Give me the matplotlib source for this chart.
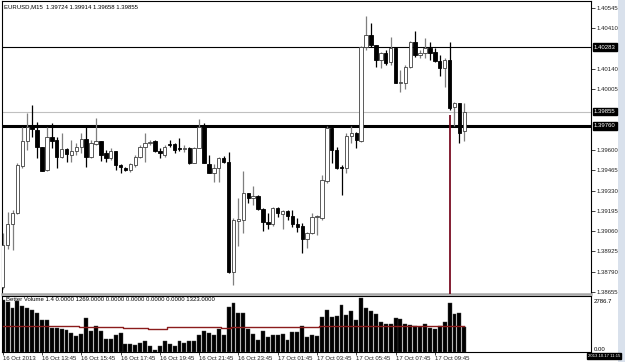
import matplotlib
matplotlib.use('Agg')
from matplotlib import pyplot as plt
from matplotlib import transforms

plt.rcParams['font.family'] = ['Liberation Sans', 'DejaVu Sans']
FS = 4.3

# EURUSD M15 candles
opens = [1.38688, 1.38968, 1.39107, 1.39180, 1.39493, 1.39659, 1.39752, 1.39732, 1.39619, 1.39466,
         1.39686, 1.39666, 1.39553, 1.39606, 1.39566, 1.39593, 1.39619, 1.39672, 1.39553, 1.39639,
         1.39659, 1.39579, 1.39546, 1.39593, 1.39500, 1.39480, 1.39466, 1.39500, 1.39553, 1.39619,
         1.39646, 1.39659, 1.39593, 1.39566, 1.39639, 1.39639, 1.39613, 1.39606, 1.39613, 1.39513,
         1.39613, 1.39752, 1.39506, 1.39446, 1.39480, 1.39546, 1.39520, 1.38788, 1.39127, 1.39134,
         1.39313, 1.39280, 1.39293, 1.39207, 1.39121, 1.39107, 1.39214, 1.39174, 1.39194, 1.39160,
         1.39107, 1.39094, 1.39007, 1.39047, 1.39154, 1.39147, 1.39393, 1.39746, 1.39599, 1.39486,
         1.39480, 1.39692, 1.39712, 1.39659, 1.40284, 1.40364, 1.40298, 1.40198, 1.40244, 1.40185,
         1.40278, 1.40045, 1.40045, 1.40151, 1.40318, 1.40231, 1.40244, 1.40278, 1.40251, 1.40191,
         1.40145, 1.40198, 1.39885, 1.39912, 1.39724]
highs = [1.39047, 1.39187, 1.39200, 1.39513, 1.39752, 1.39845, 1.39899, 1.39786, 1.39622, 1.39752,
         1.39779, 1.39686, 1.39712, 1.39613, 1.39666, 1.39646, 1.39712, 1.39752, 1.39666, 1.39812,
         1.39659, 1.39599, 1.39613, 1.39593, 1.39506, 1.39486, 1.39513, 1.39566, 1.39633, 1.39712,
         1.39666, 1.39666, 1.39613, 1.39633, 1.39666, 1.39646, 1.39679, 1.39633, 1.39619, 1.39619,
         1.39806, 1.39779, 1.39566, 1.39506, 1.39553, 1.39559, 1.39586, 1.39147, 1.39280, 1.39460,
         1.39313, 1.39360, 1.39300, 1.39214, 1.39180, 1.39220, 1.39220, 1.39200, 1.39200, 1.39200,
         1.39147, 1.39114, 1.39054, 1.39180, 1.39167, 1.39433, 1.39759, 1.39759, 1.39619, 1.39500,
         1.39712, 1.39759, 1.39719, 1.40291, 1.40490, 1.40444, 1.40298, 1.40251, 1.40264, 1.40351,
         1.40284, 1.40131, 1.40165, 1.40324, 1.40391, 1.40264, 1.40344, 1.40318, 1.40278, 1.40231,
         1.40211, 1.40318, 1.39919, 1.39912, 1.39914]
lows = [1.38675, 1.38941, 1.38934, 1.39174, 1.39480, 1.39599, 1.39686, 1.39546, 1.39457, 1.39460,
        1.39613, 1.39480, 1.39546, 1.39520, 1.39520, 1.39566, 1.39579, 1.39486, 1.39546, 1.39633,
        1.39526, 1.39520, 1.39533, 1.39466, 1.39446, 1.39460, 1.39453, 1.39486, 1.39546, 1.39520,
        1.39633, 1.39586, 1.39546, 1.39553, 1.39619, 1.39579, 1.39593, 1.39586, 1.39506, 1.39513,
        1.39613, 1.39513, 1.39446, 1.39387, 1.39387, 1.39513, 1.38781, 1.38702, 1.38961, 1.39047,
        1.39247, 1.39234, 1.39200, 1.39061, 1.39074, 1.39094, 1.39154, 1.39074, 1.39134, 1.39087,
        1.39054, 1.38914, 1.38948, 1.39041, 1.39034, 1.39134, 1.39380, 1.39513, 1.39470, 1.39300,
        1.39446, 1.39646, 1.39613, 1.39653, 1.40264, 1.40284, 1.40151, 1.40145, 1.40165, 1.40165,
        1.40045, 1.39985, 1.40005, 1.40145, 1.40218, 1.40211, 1.40211, 1.40198, 1.40185, 1.40091,
        1.40018, 1.39865, 1.39759, 1.39646, 1.39658]
closes = [1.38968, 1.39107, 1.39180, 1.39500, 1.39659, 1.39752, 1.39739, 1.39619, 1.39460, 1.39686,
          1.39659, 1.39553, 1.39606, 1.39573, 1.39593, 1.39619, 1.39672, 1.39553, 1.39646, 1.39659,
          1.39566, 1.39546, 1.39593, 1.39500, 1.39486, 1.39466, 1.39506, 1.39553, 1.39619, 1.39646,
          1.39653, 1.39593, 1.39579, 1.39619, 1.39633, 1.39599, 1.39606, 1.39613, 1.39513, 1.39613,
          1.39752, 1.39513, 1.39446, 1.39480, 1.39546, 1.39520, 1.38788, 1.39134, 1.39140, 1.39313,
          1.39280, 1.39293, 1.39207, 1.39121, 1.39107, 1.39214, 1.39180, 1.39194, 1.39160, 1.39107,
          1.39087, 1.39007, 1.39047, 1.39154, 1.39160, 1.39400, 1.39746, 1.39599, 1.39480, 1.39480,
          1.39692, 1.39712, 1.39666, 1.40284, 1.40364, 1.40298, 1.40198, 1.40244, 1.40178, 1.40278,
          1.40045, 1.40052, 1.40151, 1.40318, 1.40231, 1.40244, 1.40278, 1.40244, 1.40191, 1.40145,
          1.40198, 1.39879, 1.39912, 1.39712, 1.39855]

# Better Volume histogram + its average
volumes = [2637, 2538, 2239, 2588, 2339, 2239, 2140, 1990, 1642, 1642,
           1194, 1194, 1144, 1095, 945, 796, 896, 1742, 1045, 1294,
           1045, 647, 647, 846, 945, 398, 398, 348, 448, 547,
           299, 100, 299, 547, 398, 299, 547, 448, 547, 547,
           846, 1045, 945, 846, 1144, 846, 2289, 2488, 1990, 1990,
           1144, 896, 597, 1045, 746, 846, 846, 896, 597, 995,
           995, 1294, 746, 846, 796, 1791, 2140, 1791, 1841, 2388,
           1891, 2090, 1642, 2737, 2239, 2090, 1941, 1543, 1443, 1443,
           1742, 1692, 1393, 1344, 1294, 1244, 1393, 1194, 1144, 1294,
           1543, 2488, 1941, 1990, 1269]
vol_avg = [1340, 1340, 1340, 1340, 1340, 1340, 1340, 1340, 1340, 1340,
           1300, 1300, 1300, 1300, 1300, 1300, 1280, 1280, 1280, 1280,
           1280, 1280, 1280, 1280, 1280, 1230, 1230, 1230, 1230, 1230,
           1180, 1180, 1180, 1180, 1260, 1260, 1260, 1260, 1260, 1260,
           1260, 1260, 1260, 1260, 1260, 1240, 1240, 1280, 1280, 1280,
           1280, 1280, 1280, 1280, 1280, 1280, 1280, 1280, 1280, 1280,
           1280, 1280, 1280, 1280, 1280, 1330, 1330, 1330, 1330, 1330,
           1330, 1330, 1330, 1330, 1330, 1335, 1335, 1335, 1335, 1335,
           1335, 1335, 1335, 1335, 1335, 1323, 1323, 1323, 1323, 1323,
           1323, 1323, 1323, 1323, 1323]

price_ticks = [1.40545, 1.40410, 1.40140, 1.40005, 1.39600, 1.39465,
               1.39330, 1.39195, 1.39060, 1.38925, 1.38790, 1.38655]
level_hi = 1.40283     # thin black horizontal line
bid_level = 1.39855    # grey bid line
level_lo = 1.39760     # thick black horizontal line
red_line_bar = 91
red_line_top = 1.39832

time_tick_idx = [0, 8, 16, 24, 32, 40, 48, 56, 64, 72, 80, 88]
time_labels = ['16 Oct 2013', '16 Oct 13:45', '16 Oct 15:45', '16 Oct 17:45',
               '16 Oct 19:45', '16 Oct 21:45', '16 Oct 23:45', '17 Oct 01:45',
               '17 Oct 03:45', '17 Oct 05:45', '17 Oct 07:45', '17 Oct 09:45']

W, H = 625, 362
fig = plt.figure(figsize=(W / 100, H / 100), dpi=100)
fig.patch.set_facecolor('white')

# scroll strip on the right edge
fig.patches.append(plt.Rectangle((618 / W, 0), 7 / W, 1, transform=fig.transFigure,
                                 fc='#d9e1ec', ec='none', zorder=-5))

ax = fig.add_axes([2 / W, 68 / H, 589 / W, 293 / H])
axv = fig.add_axes([2 / W, 10 / H, 589 / W, 56 / H], sharex=ax)

n = len(opens)
idx = list(range(n))
x_lo, x_hi = -0.14, 119.8

# candles
for i in idx:
    o, h, l, c = opens[i], highs[i], lows[i], closes[i]
    bull = c >= o
    ax.vlines(i, l, h, color='#7f7f7f' if bull else 'black', lw=0.9, zorder=2)
    body = abs(c - o)
    if body < 0.00003:
        ax.hlines(o, i - 0.35, i + 0.35, color='black', lw=0.9, zorder=3)
    else:
        ax.bar(i, body, bottom=min(o, c), width=0.7,
               color='white' if bull else 'black',
               edgecolor='#404040' if bull else 'black', linewidth=0.6, zorder=3)

ax.axhline(level_hi, color='black', lw=0.8, zorder=1)
ax.axhline(bid_level, color='#c0c0c0', lw=0.8, zorder=1)
ax.axhline(level_lo, color='black', lw=2.2, zorder=1)
ax.vlines(red_line_bar, 1.3860, red_line_top, color='#7a0c22', lw=1.3, zorder=4)

ax.set_xlim(x_lo, x_hi)
ax.set_ylim(1.38642, 1.40590)
ax.yaxis.set_ticks_position('right')
ax.set_yticks(price_ticks)
ax.set_yticklabels(['%.5f' % p for p in price_ticks])
ax.tick_params(axis='y', labelsize=FS, length=3, width=0.6, pad=1, colors='#202020')
ax.tick_params(axis='x', bottom=False, labelbottom=False)
for s in ['left', 'top', 'right']:
    ax.spines[s].set_color('black')
    ax.spines[s].set_linewidth(0.8)
ax.spines['bottom'].set_color('#a8a8a8')
ax.spines['bottom'].set_linewidth(1.8)

trans = transforms.blended_transform_factory(ax.transAxes, ax.transData)
for lvl in [level_hi, bid_level, level_lo]:
    ax.text(1.005, lvl, '%.5f' % lvl, transform=trans, fontsize=FS, color='white',
            va='center', ha='left', zorder=6,
            bbox=dict(boxstyle='square,pad=0.2', fc='black', ec='black'))

fig.text(4 / W, 1 - 7 / H, 'EURUSD,M15  1.39724 1.39914 1.39658 1.39855',
         fontsize=FS, va='center', ha='left')

# volume panel
axv.bar(idx, volumes, width=0.8, color='black', edgecolor='#404040', linewidth=0.3, zorder=2)
axv.plot(idx, vol_avg, color='#8b1c1c', lw=1.0, drawstyle='steps-mid', zorder=3)
axv.set_ylim(0, 2836)
axv.set_yticks([])
axv.set_xticks(time_tick_idx)
axv.set_xticklabels(time_labels)
axv.tick_params(axis='x', labelsize=FS, length=2.5, width=0.6, pad=0.5, colors='#202020')
for lbl in axv.get_xticklabels():
    lbl.set_ha('left')
for s in axv.spines.values():
    s.set_color('black')
    s.set_linewidth(0.8)
axv.text(0.006, 0.93, 'Better Volume 1.4 0.0000 1269.0000 0.0000 0.0000 0.0000 0.0000 1323.0000',
         transform=axv.transAxes, fontsize=FS, va='center', ha='left', zorder=5)
axv.text(1.005, 0.9, '2786.7', transform=axv.transAxes, fontsize=FS, va='center', ha='left')
axv.text(1.005, 0.04, '0.00', transform=axv.transAxes, fontsize=FS, va='center', ha='left')

fig.text(588 / W, 1 - 356 / H, '2013.10.17 11:15', fontsize=3.1, color='white',
         va='center', ha='left',
         bbox=dict(boxstyle='square,pad=0.15', fc='black', ec='black'))

fig.savefig('out.png', dpi=100)
